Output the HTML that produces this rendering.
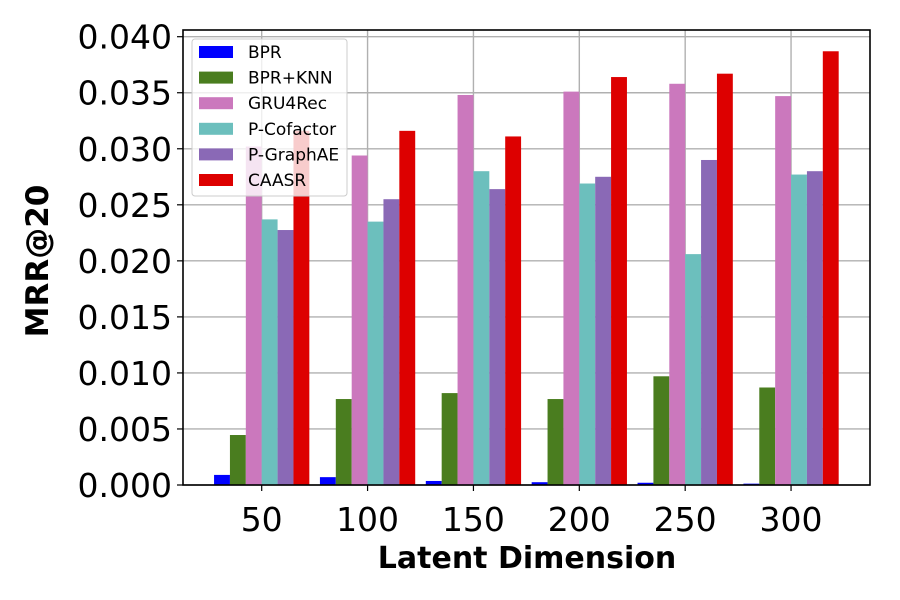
<!DOCTYPE html>
<html><head><meta charset="utf-8"><style>
html,body{margin:0;padding:0;background:#fff;}
svg{display:block;font-family:"DejaVu Sans","Liberation Sans",sans-serif;}
</style></head><body>
<svg id="chart" width="900" height="600" xmlns="http://www.w3.org/2000/svg"></svg>
<script>
const categories = ["50","100","150","200","250","300"];
const seriesNames = ["BPR","BPR+KNN","GRU4Rec","P-Cofactor","P-GraphAE","CAASR"];
const seriesColors = ["#0000ff","#4a7d1f","#cb78bd","#6cbfbd","#8a69b6","#dd0000"];
const bprValues = [0.0009,0.0007,0.00036,0.00025,0.0002,0.00012];
const knnValues = [0.00446,0.00767,0.0082,0.00767,0.0097,0.0087];
const gruValues = [0.0302,0.0294,0.0348,0.0351,0.0358,0.0347];
const cofValues = [0.0237,0.0235,0.0280,0.0269,0.0206,0.0277];
const graphValues = [0.02275,0.0255,0.0264,0.0275,0.0290,0.0280];
const caasrValues = [0.0316,0.0316,0.0311,0.0364,0.0367,0.0387];
const yTicks = [0,0.005,0.010,0.015,0.020,0.025,0.030,0.035,0.040];
const yTickLabels = ["0.000","0.005","0.010","0.015","0.020","0.025","0.030","0.035","0.040"];

const NS="http://www.w3.org/2000/svg";
const svg=document.getElementById('chart');
const L=183,R=870,T=30,B=485;
function y(v){return B - v/0.040*(B-36.7);}
const step=105.87, x0=261.7;
function x(i){return x0+i*step;}
const bw=15.88;
function mk(tag,attrs,parent){const e=document.createElementNS(NS,tag);for(const k in attrs)e.setAttribute(k,attrs[k]);(parent||svg).appendChild(e);return e;}

yTicks.forEach((t,i)=>{
  const g=mk('line',{x1:L,x2:R,y1:y(t),y2:y(t),stroke:'#b0b0b0','stroke-width':1.4});
  
  
});
categories.forEach((c,i)=>{
  const g=mk('line',{x1:x(i),x2:x(i),y1:T,y2:B,stroke:'#b0b0b0','stroke-width':1.4});
  
  
});
const allSeries=[bprValues,knnValues,gruValues,cofValues,graphValues,caasrValues];
allSeries.forEach((vals,s)=>{
  vals.forEach((v,i)=>{
    const cx=x(i)+(s-2.5)*bw;
    const r=mk('rect',{x:cx-bw/2,y:y(v),width:bw,height:B-y(v),fill:seriesColors[s]});
    
    
  });
});
const box=mk('rect',{x:L,y:T,width:R-L,height:B-T,fill:'none',stroke:'#000','stroke-width':1.6});


yTicks.forEach((t,i)=>{
  mk('line',{x1:L-6,x2:L,y1:y(t),y2:y(t),stroke:'#000','stroke-width':1.2});
  const tx=mk('text',{x:L-11,y:y(t)+12,'text-anchor':'end','font-size':33,fill:'#000'});
  tx.textContent=yTickLabels[i];
  
  
});
categories.forEach((c,i)=>{
  mk('line',{x1:x(i),x2:x(i),y1:B,y2:B+6,stroke:'#000','stroke-width':1.2});
  const tx=mk('text',{x:x(i),y:B+46,'text-anchor':'middle','font-size':33,fill:'#000'});
  tx.textContent=c;
  
  
});
const xt=mk('text',{x:527,y:568,'text-anchor':'middle','font-size':30,'font-weight':'bold',fill:'#000'});
xt.textContent='Latent Dimension';


const yt=mk('text',{x:0,y:0,'text-anchor':'middle','font-size':31,'font-weight':'bold',fill:'#000',transform:'translate(48,261) rotate(-90)'});
yt.textContent='MRR@20';


const lg=mk('g',{});


const lb=mk('rect',{x:192,y:39,width:155,height:157,rx:3,fill:'#fff','fill-opacity':0.8,stroke:'#cccccc','stroke-width':1},lg);


seriesNames.forEach((n,s)=>{
  const yy=52+s*25.6;
  const e=mk('g',{},lg);
  
  
  mk('rect',{x:199,y:yy-6,width:34,height:12,fill:seriesColors[s]},e);
  const t=mk('text',{x:248,y:yy+6,'font-size':17,fill:'#000'},e);
  t.textContent=n;
});
</script>
</body></html>
